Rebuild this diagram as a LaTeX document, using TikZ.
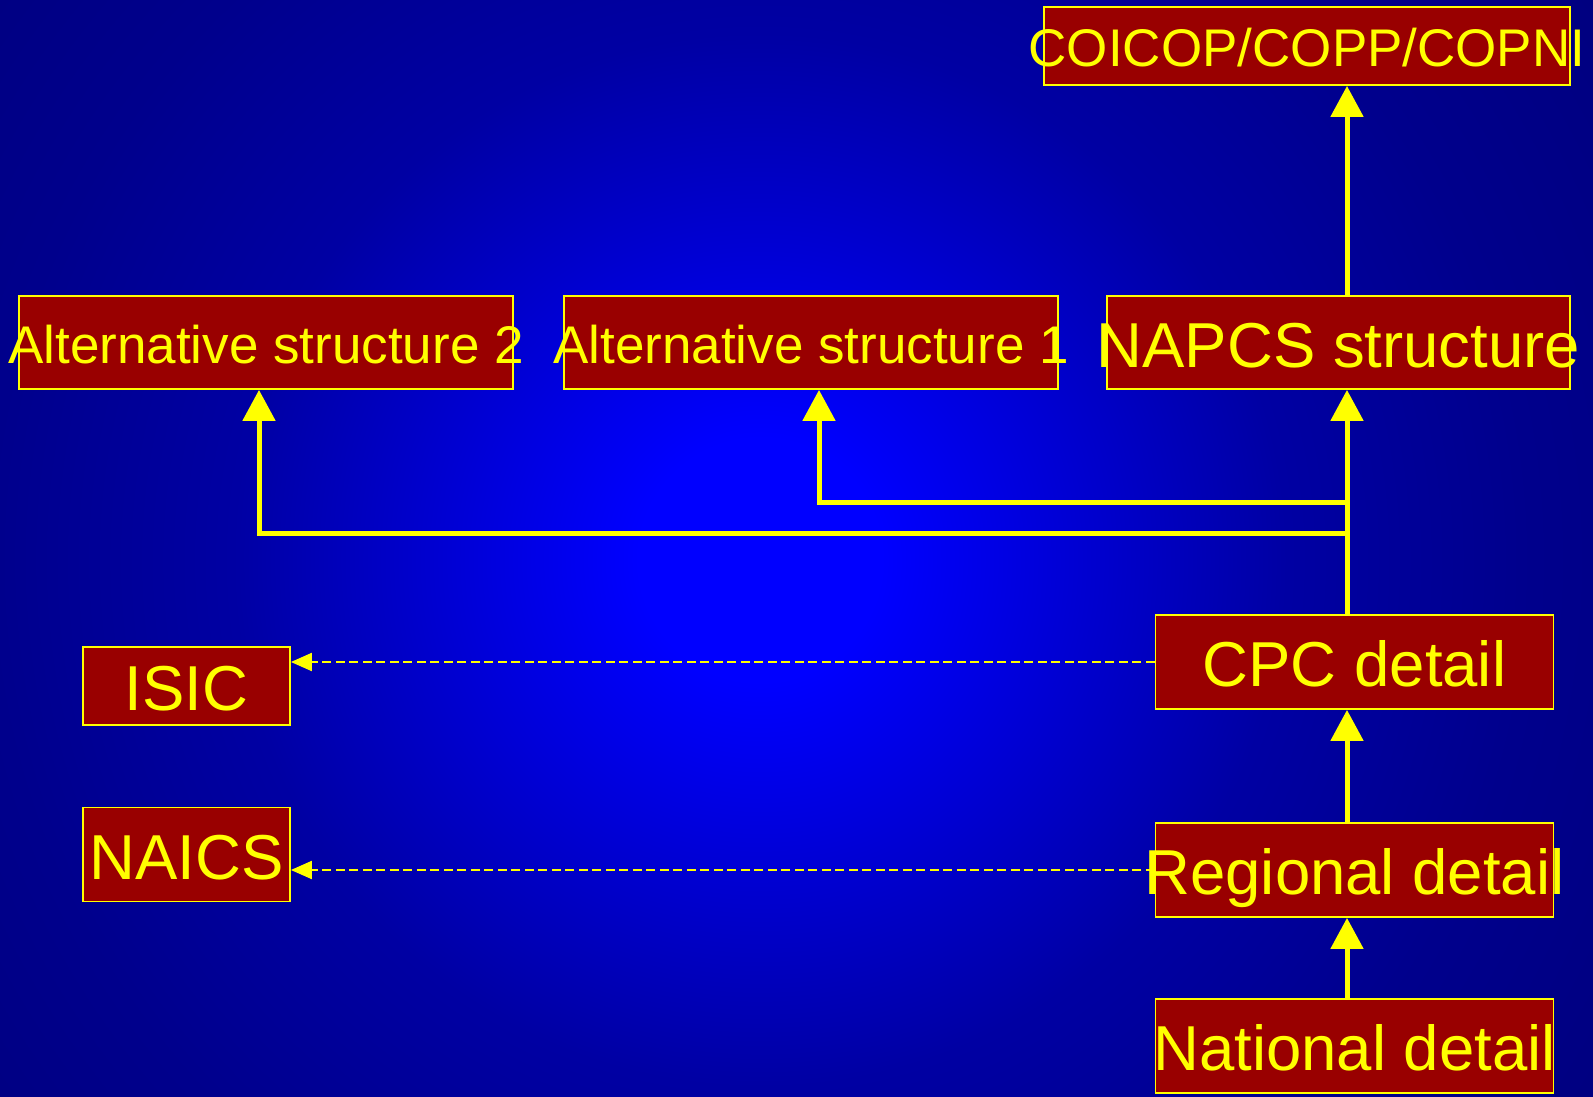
\documentclass[tikz,border=0pt]{standalone}
\usepackage{fontspec}
\setmainfont{Liberation Sans}
\usetikzlibrary{arrows.meta}
\definecolor{boxred}{HTML}{990000}
\definecolor{ylw}{HTML}{FFFF00}
\definecolor{navy}{rgb}{0,0,0.5}
\pgfdeclareradialshading{bgshade}{\pgfpoint{0bp}{0bp}}{rgb(0bp)=(0,0,1); rgb(3bp)=(0,0,1); rgb(13bp)=(0,0,0.64); rgb(19bp)=(0,0,0.55); rgb(25bp)=(0,0,0.5); rgb(50bp)=(0,0,0.5)}
\begin{document}
\begin{tikzpicture}[x=1pt,y=-1pt,
 box/.style={draw=ylw, line width=1.8pt, fill=boxred, inner sep=0pt, text=ylw, text depth=0pt},
 boxs/.style={box, font=\fontsize{53}{60}\selectfont, text height=41.5pt},
 boxb/.style={box, font=\fontsize{63.5}{70}\selectfont, text height=49pt},
 link/.style={draw=ylw, line width=5pt, -{Triangle[width=32pt,length=31pt]}},
 dlink/.style={draw=ylw, line width=2pt, dash pattern=on 9pt off 4.5pt, -{Triangle[width=18pt,length=21pt]}}
]
\useasboundingbox (0,0) rectangle (1593,1097);
\begin{scope}
\clip (0,0) rectangle (1593,1097);
\fill[navy] (0,0) rectangle (1593,1097);
\shade[shading=bgshade] (760,560) circle (1012pt);
\end{scope}

\node[boxs, minimum width=526pt, minimum height=78pt] (coicop) at (1307,46) {\makebox[0pt]{COICOP/COPP/COPNI}};
\node[boxs, minimum width=494pt, minimum height=93pt] (alt2) at (266,342.5) {\makebox[0pt]{Alternative structure 2}};
\node[boxs, minimum width=494pt, minimum height=93pt] (alt1) at (811,342.5) {\makebox[0pt]{Alternative structure 1}};
\node[boxb, minimum width=463pt, minimum height=93pt] (napcs) at (1338.5,342.5) {\makebox[0pt]{NAPCS structure}};
\node[boxb, minimum width=207pt, minimum height=78pt] (isic) at (186.5,686) {\makebox[0pt]{ISIC}};
\node[boxb, minimum width=207pt, minimum height=94pt] (naics) at (186.5,854.5) {\makebox[0pt]{NAICS}};
\node[boxb, minimum width=398pt, minimum height=94pt] (cpc) at (1354.5,662) {\makebox[0pt]{CPC detail}};
\node[boxb, minimum width=398pt, minimum height=94pt] (regional) at (1354.5,870) {\makebox[0pt]{Regional detail}};
\node[boxb, minimum width=398pt, minimum height=94pt] (national) at (1354.5,1046) {\makebox[0pt]{National detail}};

\coordinate (spine) at (1347,0);
\coordinate (a1x) at (819,0);
\coordinate (a2x) at (259,0);
\coordinate (j1) at (1347,502);
\coordinate (j2) at (1347,533);

\draw[link] (national.north -| spine) -- (regional.south -| spine);
\draw[link] (regional.north -| spine) -- (cpc.south -| spine);
\draw[link] (cpc.north -| spine) -- (napcs.south -| spine);
\draw[link] (napcs.north -| spine) -- (coicop.south -| spine);
\draw[link] (j1) -| (alt1.south -| a1x);
\draw[link] (j2) -| (alt2.south -| a2x);

\draw[dlink] (cpc.west) -- (cpc.west -| isic.east);
\draw[dlink] (regional.west) -- (regional.west -| naics.east);
\end{tikzpicture}
\end{document}
